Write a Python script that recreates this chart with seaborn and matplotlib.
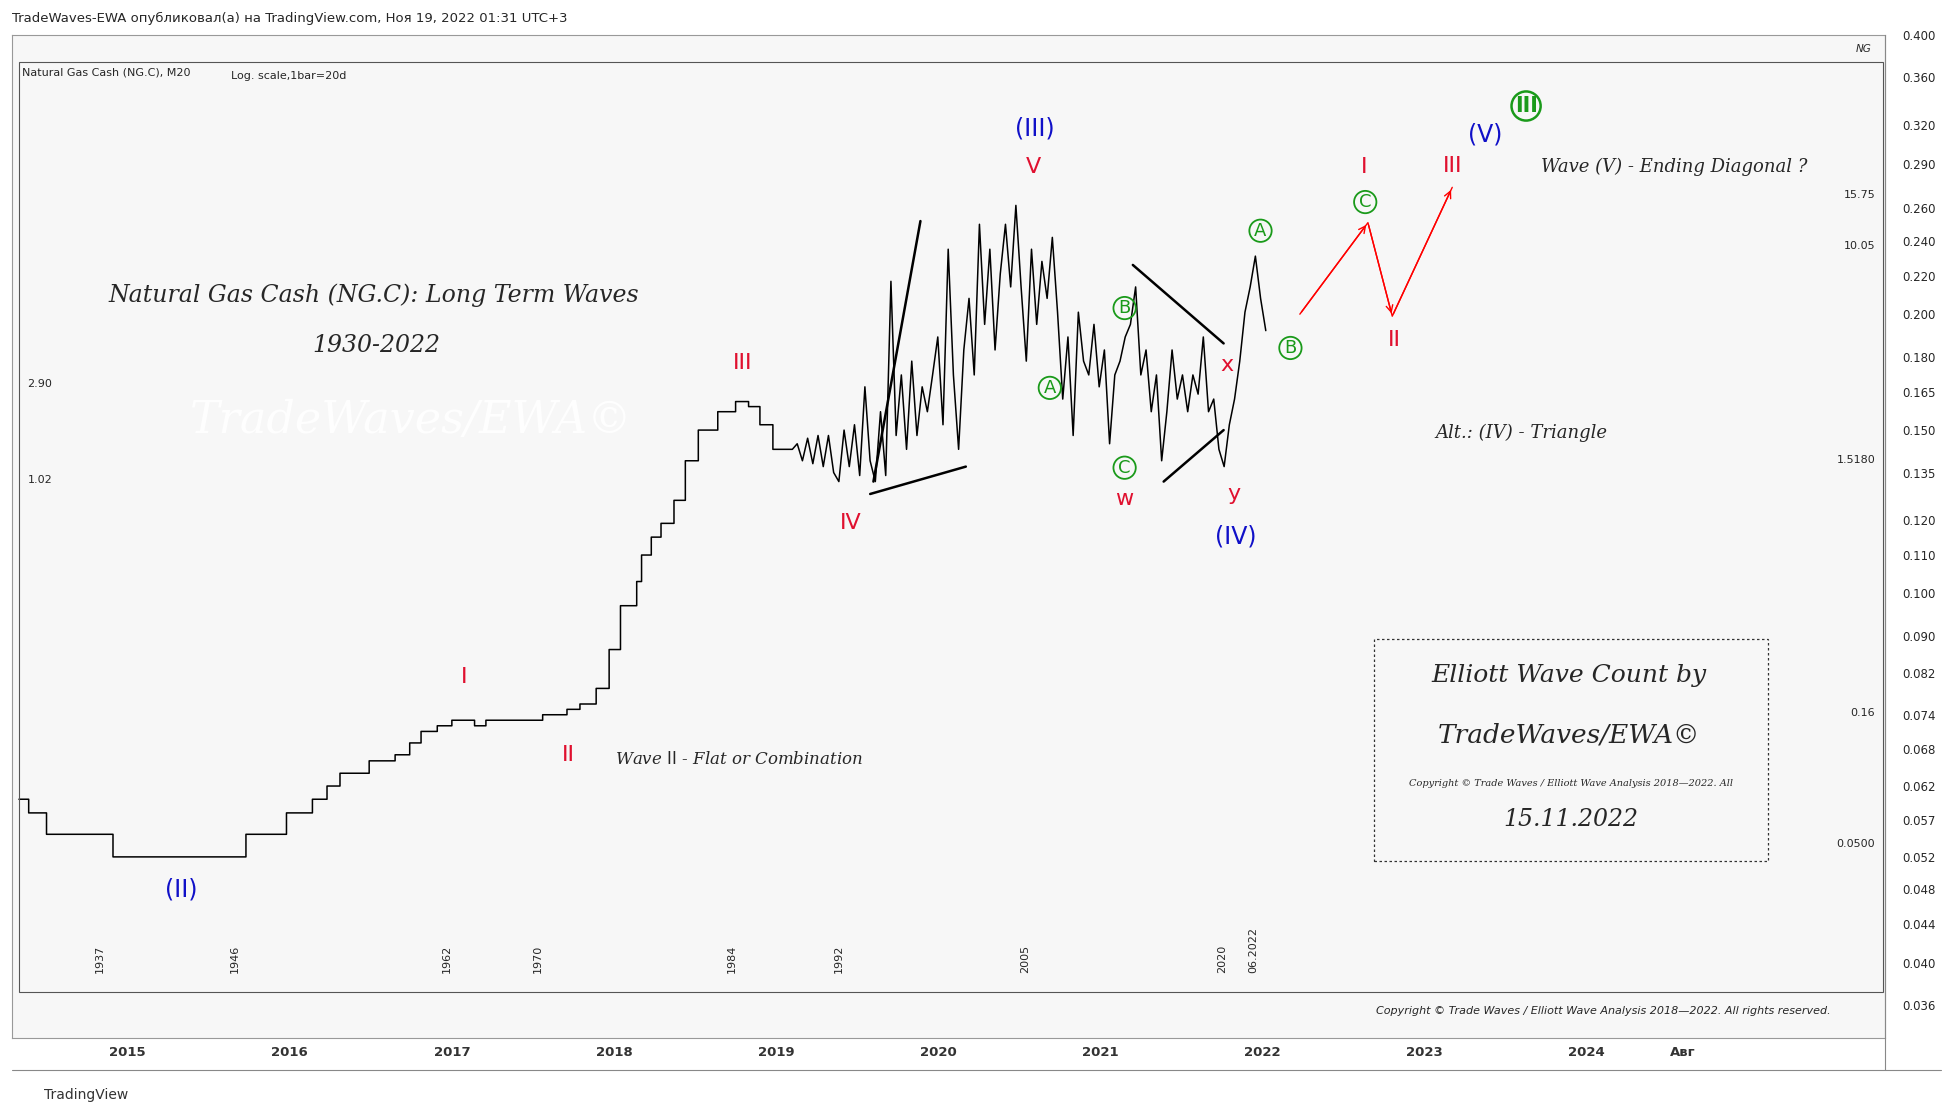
import numpy as np
import matplotlib.pyplot as plt
import matplotlib.patches as mpatches
import seaborn as sns

sns.set_theme(style="white")

# step part of the series (year, price)
step_years = [2014.33, 2014.39, 2014.50, 2014.91, 2015.73, 2015.98, 2016.14, 2016.23, 2016.31,
              2016.49, 2016.65, 2016.74, 2016.81, 2016.91, 2017.00, 2017.14, 2017.21, 2017.56,
              2017.71, 2017.79, 2017.89, 2017.97, 2018.04, 2018.14, 2018.17, 2018.23, 2018.29,
              2018.37, 2018.44, 2018.52, 2018.64, 2018.75, 2018.83, 2018.90, 2018.98, 2019.10]
step_prices = [0.060, 0.058, 0.055, 0.052, 0.055, 0.058, 0.060, 0.062, 0.064,
               0.066, 0.067, 0.069, 0.071, 0.072, 0.073, 0.072, 0.073, 0.074,
               0.075, 0.076, 0.079, 0.087, 0.097, 0.103, 0.110, 0.115, 0.119,
               0.126, 0.139, 0.150, 0.157, 0.161, 0.159, 0.152, 0.143, 0.141]
# volatile part, monthly-ish bars 2019.13 .. 2022.02
noisy_prices = [0.145, 0.139, 0.147, 0.138, 0.148, 0.137, 0.148, 0.135, 0.132, 0.150,
                0.137, 0.152, 0.134, 0.167, 0.139, 0.132, 0.157, 0.134, 0.217, 0.148,
                0.172, 0.143, 0.178, 0.148, 0.167, 0.157, 0.172, 0.189, 0.152, 0.235,
                0.172, 0.143, 0.183, 0.208, 0.172, 0.250, 0.195, 0.235, 0.183, 0.221,
                0.250, 0.214, 0.262, 0.214, 0.178, 0.235, 0.195, 0.228, 0.208, 0.242,
                0.201, 0.162, 0.189, 0.148, 0.201, 0.178, 0.172, 0.195, 0.167, 0.183,
                0.145, 0.172, 0.178, 0.189, 0.195, 0.214, 0.172, 0.183, 0.157, 0.172,
                0.139, 0.157, 0.183, 0.162, 0.172, 0.157, 0.172, 0.164, 0.189, 0.157,
                0.162, 0.143, 0.137, 0.152, 0.162, 0.178, 0.201, 0.214, 0.231, 0.208, 0.192]

tri_lines = [((2019.58, 2020.17), (0.128, 0.137)),
             ((2019.60, 2019.89), (0.132, 0.252)),
             ((2021.20, 2021.76), (0.226, 0.186)),
             ((2021.39, 2021.76), (0.132, 0.150))]
proj_years = [2022.23, 2022.65, 2022.80, 2023.17]
proj_prices = [0.200, 0.251, 0.199, 0.274]

price_ticks = [0.036, 0.040, 0.044, 0.048, 0.052, 0.057, 0.062, 0.068, 0.074, 0.082, 0.090,
               0.100, 0.110, 0.120, 0.135, 0.150, 0.165, 0.180, 0.200, 0.220, 0.240, 0.260,
               0.290, 0.320, 0.360, 0.400]
year_ticks = list(range(2015, 2025))

W, H = 1560, 890
fx = lambda px: px / W
fy = lambda py: 1 - py / H

fig = plt.figure(figsize=(19.45, 11.10), dpi=100)
fig.patch.set_facecolor("white")
ax = fig.add_axes([fx(10), fy(832), fx(1512) - fx(10), fy(28) - fy(832)])
ax.set_facecolor("#f7f7f7")

xs = []
ys = []
for i in range(len(step_years) - 1):
    xs += [step_years[i], step_years[i + 1]]
    ys += [step_prices[i], step_prices[i]]
nx = list(np.linspace(2019.13, 2022.02, len(noisy_prices)))
xs += nx
ys += noisy_prices
sns.lineplot(x=xs, y=ys, ax=ax, color="black", lw=1.1, sort=False, estimator=None)

for lx, ly in tri_lines:
    ax.plot(lx, ly, color="black", lw=1.8)
ax.plot(proj_years, proj_prices, color="red", lw=1)
for i in range(len(proj_years) - 1):
    ax.annotate("", xy=(proj_years[i + 1], proj_prices[i + 1]), xytext=(proj_years[i], proj_prices[i]),
                arrowprops=dict(arrowstyle="->", color="red", lw=1))

ax.set_yscale("log")
ax.set_ylim(0.0332, 0.4)
ax.set_xlim(2014.29, 2025.84)
ax.yaxis.tick_right()
ax.set_yticks(price_ticks)
ax.set_yticklabels([f"{t:.3f}" for t in price_ticks], fontsize=8.5)
ax.minorticks_off()
ax.set_xticks(year_ticks + [2024.59])
ax.set_xticklabels([str(y) for y in year_ticks] + ["Авг"], fontsize=9.5, weight="bold", color="#333333")
ax.tick_params(axis="x", pad=6, length=0)
ax.tick_params(axis="y", length=0, pad=12)
for s in ax.spines.values():
    s.set_color("#999999")
    s.set_linewidth(0.8)

# inner frame
fig.patches.append(mpatches.Rectangle((fx(15), fy(795)), fx(1510) - fx(15), fy(50) - fy(795),
                                      transform=fig.transFigure, fill=False, ec="#555555", lw=0.8))
fig.add_artist(plt.Line2D([fx(1512), fx(1512)], [fy(28), fy(858)], color="#888888", lw=0.8))
fig.add_artist(plt.Line2D([fx(10), fx(1557)], [fy(858), fy(858)], color="#888888", lw=0.8))

fig.text(fx(10), fy(15), "TradeWaves-EWA опубликовал(а) на TradingView.com, Ноя 19, 2022 01:31 UTC+3",
         fontsize=9.5, va="center")
fig.text(fx(35), fy(878), "TradingView", fontsize=10, va="center", color="#333333")
fig.text(fx(18), fy(58), "Natural Gas Cash (NG.C), M20", fontsize=8, va="center")
fig.text(fx(185), fy(61), "Log. scale,1bar=20d", fontsize=8, va="center")
fig.text(fx(1488), fy(39), "NG", fontsize=7.5, va="center", style="italic")
fig.text(fx(1468), fy(811), "Copyright © Trade Waves / Elliott Wave Analysis 2018—2022. All rights reserved.",
         fontsize=8, ha="right", va="center", style="italic")

for lbl, px, py in [("2.90", 22, 308), ("1.02", 22, 385)]:
    fig.text(fx(px), fy(py), lbl, fontsize=8, va="center")
for lbl, px, py in [("15.75", 1504, 156), ("10.05", 1504, 197), ("1.5180", 1504, 369),
                    ("0.16", 1504, 572), ("0.0500", 1504, 677)]:
    fig.text(fx(px), fy(py), lbl, fontsize=8, va="center", ha="right")
for lbl, px in [("1937", 80), ("1946", 188), ("1962", 358), ("1970", 431), ("1984", 587),
                ("1992", 673), ("2005", 822), ("2020", 980), ("06.2022", 1005)]:
    fig.text(fx(px), fy(780), lbl, fontsize=8, rotation=90, ha="center", va="bottom")

hand = dict(family="DejaVu Serif", style="italic")
fig.text(fx(300), fy(237), "Natural Gas Cash (NG.C): Long Term Waves", fontsize=17, ha="center", va="center", **hand)
fig.text(fx(302), fy(277), "1930-2022", fontsize=17, ha="center", va="center", **hand)
fig.text(fx(330), fy(337), "TradeWaves/EWA©", fontsize=32, ha="center", va="center", color="white",
         alpha=0.9, **hand)
fig.text(fx(593), fy(609), "Wave $\\mathrm{II}$ - Flat or Combination", fontsize=12, ha="center", va="center", **hand)
fig.text(fx(1220), fy(347), "Alt.: (IV) - Triangle", fontsize=13, ha="center", va="center", **hand)
fig.text(fx(1343), fy(134), "Wave (V) - Ending Diagonal ?", fontsize=13, ha="center", va="center", **hand)

fig.patches.append(mpatches.Rectangle((fx(1102), fy(690)), fx(1418) - fx(1102), fy(512) - fy(690),
                                      transform=fig.transFigure, fill=False, ec="#333333", lw=0.9, ls=(0, (2, 2))))
fig.text(fx(1258), fy(542), "Elliott Wave Count by", fontsize=18, ha="center", va="center", **hand)
fig.text(fx(1258), fy(589), "TradeWaves/EWA©", fontsize=19, ha="center", va="center", **hand)
fig.text(fx(1260), fy(628), "Copyright © Trade Waves / Elliott Wave Analysis 2018—2022. All", fontsize=7,
         ha="center", va="center", **hand)
fig.text(fx(1260), fy(657), "15.11.2022", fontsize=17, ha="center", va="center", **hand)

red, blue, green = "#e0102f", "#1010c8", "#1a9a1a"
labels = [("(II)", 145, 713, blue, 17), ("I", 372, 543, red, 16), ("II", 456, 605, red, 16),
          ("III", 596, 291, red, 16), ("IV", 682, 419, red, 16), ("V", 829, 134, red, 16),
          ("(III)", 830, 103, blue, 17), ("w", 902, 400, red, 16), ("x", 984, 293, red, 16),
          ("y", 990, 396, red, 16), ("(IV)", 991, 430, blue, 17), ("I", 1094, 134, red, 16),
          ("II", 1118, 273, red, 16), ("III", 1165, 133, red, 16), ("(V)", 1191, 108, blue, 17)]
for t, px, py, c, fs in labels:
    fig.text(fx(px), fy(py), t, color=c, fontsize=fs, ha="center", va="center")
circled = [("A", 842, 311), ("B", 902, 247), ("C", 902, 375), ("A", 1011, 185), ("B", 1035, 279),
           ("C", 1095, 162)]
for t, px, py in circled:
    fig.text(fx(px), fy(py), t, color=green, fontsize=13, ha="center", va="center",
             bbox=dict(boxstyle="circle,pad=0.12", fc="none", ec=green, lw=1.3))
fig.text(fx(1224), fy(85), "III", color=green, fontsize=15, ha="center", va="center", weight="bold",
         bbox=dict(boxstyle="circle,pad=0.15", fc="none", ec=green, lw=1.8))

fig.savefig("out.png", dpi=100)
